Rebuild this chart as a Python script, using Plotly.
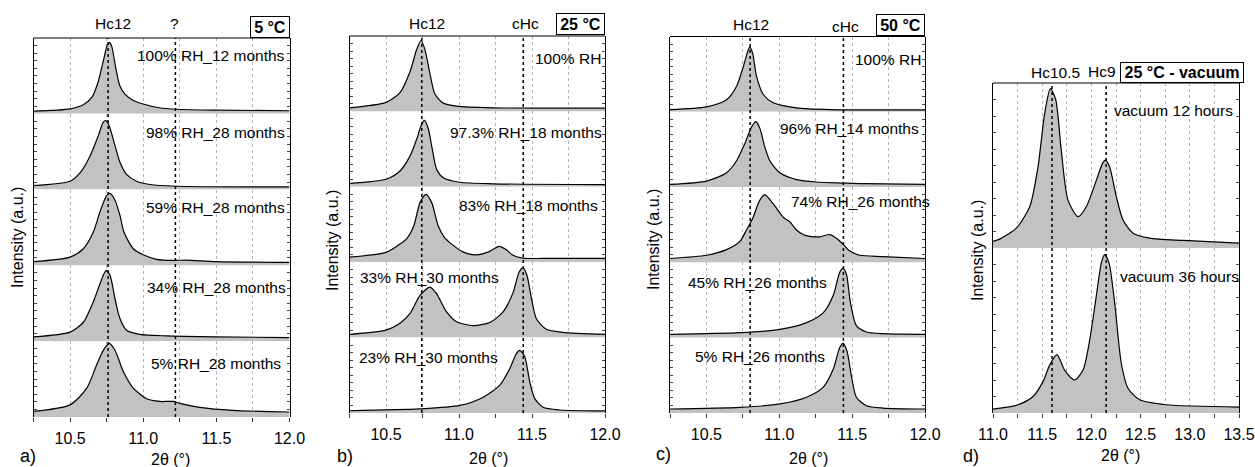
import plotly.graph_objects as go

W, H = 1255, 467
FONT = "Liberation Sans, Arial, Helvetica, sans-serif"

# ---------------- tick labels ----------------
TICKS_ABC = [10.25, 10.5, 10.75, 11.0, 11.25, 11.5, 11.75, 12.0]
TICKTEXT_ABC = ["", "10.5", "", "11.0", "", "11.5", "", "12.0"]
TICKS_D = [11.0, 11.25, 11.5, 11.75, 12.0, 12.25, 12.5, 12.75, 13.0, 13.25, 13.5]
TICKTEXT_D = ["11.0", "", "11.5", "", "12.0", "", "12.5", "", "13.0", "", "13.5"]

# ---------------- panel a) 5 °C ----------------
A1_X = [10.25, 10.50, 10.59, 10.65, 10.69, 10.73, 10.755, 10.77, 10.785, 10.81, 10.84, 10.875, 10.93, 11.0, 11.11, 11.23, 11.5, 12.0]
A1_Y = [0.035, 0.065, 0.12, 0.22, 0.41, 0.72, 0.91, 0.94, 0.89, 0.63, 0.37, 0.26, 0.18, 0.13, 0.08, 0.06, 0.048, 0.04]
A2_X = [10.25, 10.50, 10.568, 10.636, 10.693, 10.727, 10.745, 10.768, 10.807, 10.841, 10.886, 10.955, 11.045, 11.227, 12.0]
A2_Y = [0.053, 0.11, 0.22, 0.44, 0.71, 0.89, 0.91, 0.84, 0.58, 0.36, 0.2, 0.11, 0.067, 0.044, 0.035]
A3_X = [10.25, 10.5, 10.591, 10.659, 10.705, 10.75, 10.773, 10.807, 10.841, 10.868, 10.932, 11.0, 11.091, 11.205, 11.295, 11.5, 12.0]
A3_Y = [0.05, 0.11, 0.22, 0.44, 0.71, 0.92, 0.95, 0.86, 0.66, 0.44, 0.22, 0.14, 0.08, 0.066, 0.07, 0.05, 0.04]
A4_X = [10.25, 10.5, 10.591, 10.659, 10.705, 10.745, 10.773, 10.807, 10.841, 10.886, 10.977, 11.159, 11.5, 12.0]
A4_Y = [0.057, 0.12, 0.25, 0.52, 0.76, 0.93, 0.87, 0.56, 0.3, 0.145, 0.09, 0.07, 0.057, 0.048]
A5_X = [10.25, 10.5, 10.614, 10.682, 10.727, 10.768, 10.807, 10.864, 10.932, 11.023, 11.114, 11.205, 11.25, 11.386, 11.614, 12.0]
A5_Y = [0.074, 0.16, 0.38, 0.69, 0.88, 0.97, 0.88, 0.6, 0.38, 0.24, 0.205, 0.205, 0.18, 0.127, 0.087, 0.066]
LABELS_A = ["100% RH_12 months", "98% RH_28 months", "59% RH_28 months", "34% RH_28 months", "5% RH_28 months"]
REF_A = [10.76, 11.22]
REFNAMES_A = ["Hc12", "?"]

# ---------------- panel b) 25 °C ----------------
B1_X = [10.25, 10.50, 10.596, 10.665, 10.71, 10.74, 10.767, 10.801, 10.835, 10.892, 10.983, 11.234, 12.0]
B1_Y = [0.048, 0.12, 0.25, 0.53, 0.82, 0.94, 0.82, 0.5, 0.23, 0.11, 0.07, 0.048, 0.043]
B2_X = [10.25, 10.5, 10.596, 10.665, 10.71, 10.74, 10.763, 10.79, 10.813, 10.847, 10.892, 11.006, 11.234, 12.0]
B2_Y = [0.045, 0.1, 0.21, 0.41, 0.63, 0.81, 0.88, 0.77, 0.54, 0.23, 0.12, 0.06, 0.04, 0.03]
B3_X = [10.25, 10.5, 10.596, 10.645, 10.69, 10.733, 10.774, 10.813, 10.858, 10.9, 10.95, 11.024, 11.115, 11.206, 11.275, 11.321, 11.367, 11.439, 11.576, 12.0]
B3_Y = [0.066, 0.13, 0.24, 0.32, 0.48, 0.79, 0.90, 0.79, 0.48, 0.33, 0.24, 0.14, 0.096, 0.14, 0.21, 0.17, 0.096, 0.053, 0.05, 0.05]
B4_X = [10.25, 10.5, 10.596, 10.665, 10.733, 10.801, 10.847, 10.915, 10.983, 11.097, 11.211, 11.302, 11.371, 11.412, 11.439, 11.466, 11.496, 11.530, 11.598, 11.712, 12.0]
B4_Y = [0.044, 0.1, 0.19, 0.32, 0.56, 0.67, 0.58, 0.34, 0.21, 0.16, 0.2, 0.34, 0.6, 0.87, 0.925, 0.82, 0.52, 0.25, 0.11, 0.07, 0.044]
B5_X = [10.25, 10.733, 11.006, 11.166, 11.28, 11.348, 11.394, 11.416, 11.45, 11.485, 11.519, 11.576, 11.69, 12.0]
B5_Y = [0.03, 0.054, 0.1, 0.21, 0.37, 0.59, 0.79, 0.83, 0.75, 0.41, 0.19, 0.076, 0.04, 0.027]
LABELS_B = ["100% RH", "97.3% RH_18 months", "83% RH_18 months", "33% RH_30 months", "23% RH_30 months"]
REF_B = [10.745, 11.44]
REFNAMES_B = ["Hc12", "cHc"]

# ---------------- panel c) 50 °C ----------------
C1_X = [10.25, 10.501, 10.638, 10.707, 10.753, 10.787, 10.798, 10.817, 10.844, 10.89, 10.958, 11.118, 11.347, 12.0]
C1_Y = [0.03, 0.066, 0.16, 0.34, 0.6, 0.82, 0.86, 0.78, 0.47, 0.23, 0.12, 0.053, 0.03, 0.026]
C2_X = [10.25, 10.501, 10.638, 10.707, 10.764, 10.81, 10.839, 10.867, 10.901, 10.935, 11.004, 11.118, 11.255, 11.438, 11.575, 12.0]
C2_Y = [0.036, 0.08, 0.19, 0.35, 0.58, 0.8, 0.87, 0.78, 0.53, 0.35, 0.19, 0.1, 0.068, 0.054, 0.045, 0.036]
C3_X = [10.25, 10.501, 10.638, 10.73, 10.775, 10.821, 10.855, 10.878, 10.901, 10.958, 11.027, 11.072, 11.118, 11.164, 11.209, 11.278, 11.347, 11.392, 11.438, 11.484, 11.552, 11.712, 12.0]
C3_Y = [0.052, 0.095, 0.17, 0.28, 0.43, 0.6, 0.78, 0.86, 0.9, 0.78, 0.6, 0.54, 0.43, 0.37, 0.345, 0.34, 0.37, 0.32, 0.24, 0.15, 0.095, 0.078, 0.052]
C4_X = [10.25, 10.73, 11.004, 11.187, 11.301, 11.37, 11.415, 11.438, 11.461, 11.488, 11.529, 11.598, 11.712, 12.0]
C4_Y = [0.044, 0.067, 0.11, 0.2, 0.33, 0.56, 0.87, 0.92, 0.84, 0.47, 0.16, 0.076, 0.053, 0.044]
C5_X = [10.25, 10.73, 11.004, 11.187, 11.301, 11.37, 11.415, 11.438, 11.465, 11.495, 11.529, 11.598, 11.712, 12.0]
C5_Y = [0.053, 0.075, 0.12, 0.21, 0.34, 0.58, 0.87, 0.925, 0.82, 0.49, 0.21, 0.097, 0.066, 0.053]
LABELS_C = ["100% RH", "96% RH_14 months", "74% RH_26 months", "45% RH_26 months", "5% RH_26 months"]
REF_C = [10.80, 11.44]
REFNAMES_C = ["Hc12", "cHc"]

# ---------------- panel d) 25 °C - vacuum ----------------
D1_X = [11.0, 11.068, 11.237, 11.373, 11.457, 11.525, 11.583, 11.637, 11.694, 11.762, 11.864, 11.948, 12.05, 12.111, 12.142, 12.186, 12.254, 12.321, 12.423, 12.592, 12.931, 13.5]
D1_Y = [0.04, 0.054, 0.12, 0.25, 0.49, 0.815, 0.966, 0.9, 0.59, 0.29, 0.19, 0.25, 0.41, 0.51, 0.533, 0.49, 0.31, 0.17, 0.09, 0.06, 0.046, 0.03]
D2_X = [11.0, 11.254, 11.407, 11.508, 11.576, 11.65, 11.728, 11.83, 11.915, 11.982, 12.05, 12.101, 12.135, 12.179, 12.236, 12.304, 12.372, 12.491, 12.762, 13.5]
D2_Y = [0.024, 0.05, 0.1, 0.19, 0.29, 0.354, 0.26, 0.2, 0.26, 0.44, 0.71, 0.91, 0.96, 0.91, 0.67, 0.3, 0.15, 0.08, 0.05, 0.036]
LABELS_D = ["vacuum 12 hours", "vacuum 36 hours"]
REF_D = [11.60, 12.15]
REFNAMES_D = ["Hc10.5", "Hc9"]

# ---------------- layout specification (pixels) ----------------
panels = [
    dict(curves=[(A1_X, A1_Y), (A2_X, A2_Y), (A3_X, A3_Y), (A4_X, A4_Y), (A5_X, A5_Y)],
         labels=LABELS_A, refs=REF_A, refnames=REFNAMES_A, xr=[10.25, 12.0],
         tickvals=TICKS_ABC, ticktext=TICKTEXT_ABC,
         px=(33.5, 289.5), py=(38, 417),
         label_pos=[(135, 55), (144, 132), (144, 207), (145, 287), (149, 363)],
         ref_pos=[(113, 23), (174, 23)],
         box=("5 °C", 250, 290, 16, 38),
         ytitle=(18, 238), xtitle=(170, 459), letter=("a)", 28, 456)),
    dict(curves=[(B1_X, B1_Y), (B2_X, B2_Y), (B3_X, B3_Y), (B4_X, B4_Y), (B5_X, B5_Y)],
         labels=LABELS_B, refs=REF_B, refnames=REFNAMES_B, xr=[10.25, 12.0],
         tickvals=TICKS_ABC, ticktext=TICKTEXT_ABC,
         px=(349.5, 605), py=(36, 413),
         label_pos=[(533, 58), (448, 132), (457, 205), (358, 277), (357, 357)],
         ref_pos=[(427, 23), (525, 24)],
         box=("25 °C", 556, 605, 13, 35),
         ytitle=(332, 240), xtitle=(488, 458), letter=("b)", 345, 456)),
    dict(curves=[(C1_X, C1_Y), (C2_X, C2_Y), (C3_X, C3_Y), (C4_X, C4_Y), (C5_X, C5_Y)],
         labels=LABELS_C, refs=REF_C, refnames=REFNAMES_C, xr=[10.25, 12.0],
         tickvals=TICKS_ABC, ticktext=TICKTEXT_ABC,
         px=(670, 925), py=(36.5, 413),
         label_pos=[(853, 60), (778, 128), (789, 202), (686, 282), (693, 356)],
         ref_pos=[(751, 25), (845, 27)],
         box=("50 °C", 876, 925, 14, 36),
         ytitle=(653, 240), xtitle=(808, 458), letter=("c)", 664, 454)),
    dict(curves=[(D1_X, D1_Y), (D2_X, D2_Y)],
         labels=LABELS_D, refs=REF_D, refnames=REFNAMES_D, xr=[11.0, 13.5],
         tickvals=TICKS_D, ticktext=TICKTEXT_D,
         px=(993, 1239), py=(83, 413),
         label_pos=[(1112, 110), (1118, 276)],
         ref_pos=[(1055, 73), (1102, 71)],
         box=("25 °C - vacuum", 1120, 1244, 62, 83),
         ytitle=(978, 251), xtitle=(1120, 455), letter=("d)", 971, 456)),
]


def PX(x):
    return x / W


def PY(y):
    return 1 - y / H


fig = go.Figure()
layout_axes = {}
shapes = []
annotations = []
idx = 0

for p in panels:
    n = len(p["curves"])
    top, bot = p["py"]
    h = (bot - top) / n
    bottom_ax = None
    for k, (xs, ys) in enumerate(p["curves"]):
        idx += 1
        ax = "" if idx == 1 else str(idx)
        y_lo = top + (k + 1) * h
        y_hi = top + k * h
        is_bottom = k == n - 1
        xa = dict(domain=[PX(p["px"][0]), PX(p["px"][1])], range=p["xr"], anchor="y" + ax,
                  tickmode="array", tickvals=p["tickvals"],
                  ticktext=p["ticktext"], showticklabels=is_bottom,
                  ticks="outside" if is_bottom else "", ticklen=4, tickwidth=1, tickcolor="#333333",
                  ticklabelstandoff=3, automargin=False,
                  showgrid=True, gridcolor="#b4b4b4", griddash="dot", gridwidth=1,
                  zeroline=False, showline=False,
                  tickfont=dict(size=16, family=FONT, color="black"), fixedrange=True)
        ya = dict(domain=[PY(y_lo), PY(y_hi)], range=[0, 1], anchor="x" + ax,
                  showgrid=False, zeroline=False, showticklabels=False, automargin=False,
                  ticks="inside", ticklen=3, tick0=0, dtick=0.1, tickcolor="#444444",
                  showline=True, linecolor="black", linewidth=1, mirror="ticks", fixedrange=True)
        layout_axes["xaxis" + ax] = xa
        layout_axes["yaxis" + ax] = ya
        fig.add_trace(go.Scatter(x=xs, y=ys, xaxis="x" + ax, yaxis="y" + ax, mode="lines",
                                 line=dict(color="black", width=1.2, shape="spline", smoothing=0.7),
                                 fill="tozeroy", fillcolor="#c2c2c2", hoverinfo="skip",
                                 showlegend=False))
        lx, ly = p["label_pos"][k]
        annotations.append(dict(text=p["labels"][k], x=PX(lx), y=PY(ly), xref="paper", yref="paper",
                                xanchor="left", yanchor="middle", showarrow=False,
                                font=dict(size=15.5, family=FONT, color="black")))
        if is_bottom:
            bottom_ax = "x" + ax

    # dotted reference lines spanning the whole panel
    for v in p["refs"]:
        shapes.append(dict(type="line", xref=bottom_ax, yref="paper", x0=v, x1=v,
                           y0=PY(bot), y1=PY(top),
                           line=dict(color="black", width=1.5, dash="dot"), layer="above"))
    # top border of panel
    shapes.append(dict(type="line", xref="paper", yref="paper", x0=PX(p["px"][0]), x1=PX(p["px"][1]),
                       y0=PY(top), y1=PY(top), line=dict(color="black", width=1), layer="above"))
    # reference names above panel
    for name, (rx, ry) in zip(p["refnames"], p["ref_pos"]):
        annotations.append(dict(text=name, x=PX(rx), y=PY(ry), xref="paper", yref="paper",
                                xanchor="center", yanchor="middle", showarrow=False,
                                font=dict(size=15.5, family=FONT, color="black")))
    # boxed condition label
    text, bx0, bx1, by0, by1 = p["box"]
    annotations.append(dict(text="<b>" + text + "</b>", x=PX(bx1), y=PY(by1), xref="paper", yref="paper",
                            xanchor="right", yanchor="bottom", showarrow=False,
                            font=dict(size=16, family=FONT, color="black"),
                            bordercolor="black", borderwidth=1, borderpad=1, bgcolor="white",
                            width=bx1 - bx0 - 4, height=by1 - by0 - 4, align="center", valign="middle"))
    # axis titles and panel letter
    tx, ty = p["ytitle"]
    annotations.append(dict(text="Intensity (a.u.)", x=PX(tx), y=PY(ty), xref="paper", yref="paper",
                            xanchor="center", yanchor="middle", textangle=-90, showarrow=False,
                            font=dict(size=16, family=FONT, color="black")))
    tx, ty = p["xtitle"]
    annotations.append(dict(text="2θ (°)", x=PX(tx), y=PY(ty), xref="paper", yref="paper",
                            xanchor="center", yanchor="middle", showarrow=False,
                            font=dict(size=16, family=FONT, color="black")))
    lt, lx, ly = p["letter"]
    annotations.append(dict(text=lt, x=PX(lx), y=PY(ly), xref="paper", yref="paper",
                            xanchor="center", yanchor="middle", showarrow=False,
                            font=dict(size=18, family=FONT, color="black")))

fig.update_layout(width=W, height=H, autosize=False,
                  margin=dict(l=0, r=0, t=0, b=0, pad=0, autoexpand=False),
                  paper_bgcolor="white", plot_bgcolor="white",
                  showlegend=False, shapes=shapes, annotations=annotations,
                  font=dict(family=FONT, color="black"),
                  **layout_axes)

fig.write_html("out.html")
